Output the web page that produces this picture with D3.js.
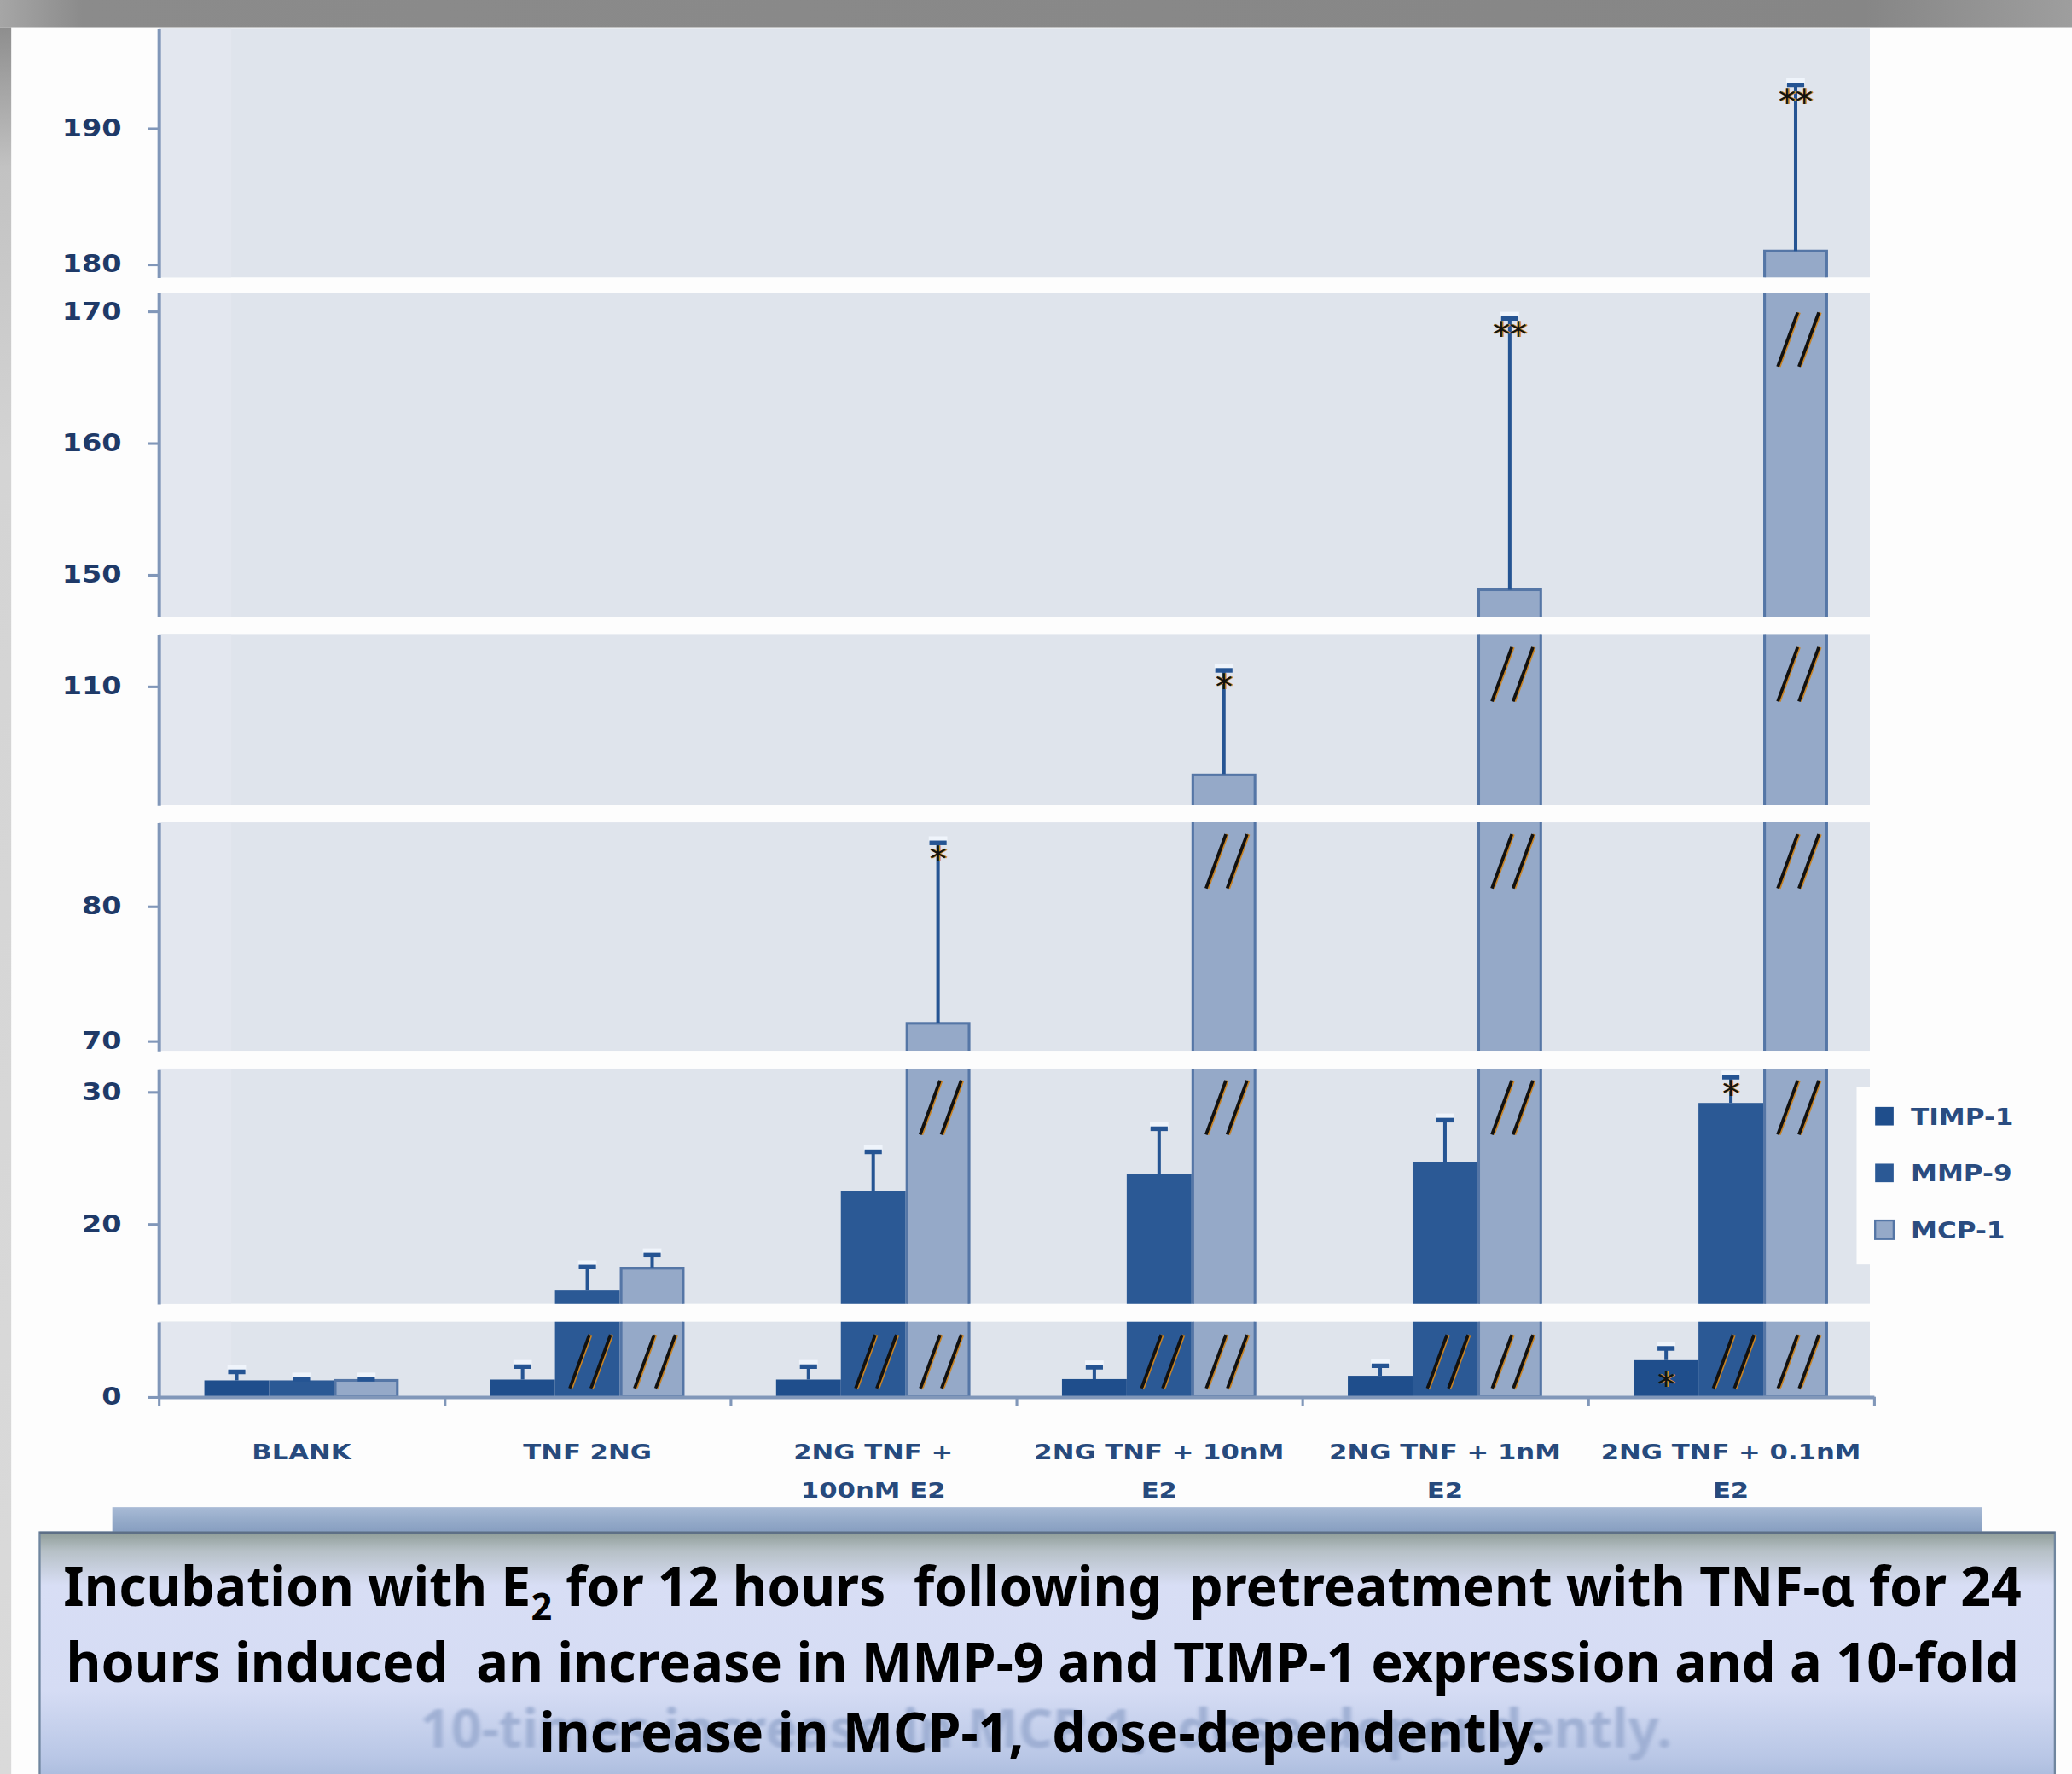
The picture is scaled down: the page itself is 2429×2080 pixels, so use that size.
<!DOCTYPE html>
<html><head><meta charset="utf-8">
<script src="https://cdn.jsdelivr.net/npm/d3@7"></script>
<style>html,body{margin:0;padding:0;background:#fff;overflow:hidden}</style>
</head><body>
<svg id="chart"></svg>
<script>
// ---------------- DATA ----------------
const categories = ["BLANK","TNF 2NG","2NG TNF + 100nM E2","2NG TNF + 10nM E2","2NG TNF + 1nM E2","2NG TNF + 0.1nM E2"];
const categoryLabelLines = [["BLANK"],["TNF 2NG"],["2NG TNF +","100nM E2"],["2NG TNF + 10nM","E2"],["2NG TNF + 1nM","E2"],["2NG TNF + 0.1nM","E2"]];
const seriesNames = ["TIMP-1","MMP-9","MCP-1"];
const timp1    = [1.0, 1.05, 1.05, 1.08, 1.28, 2.23];
const timp1Err = [0.6, 0.87, 0.87, 0.81, 0.69, 0.8];
const mmp9     = [1.0, 14.95, 22.5, 23.8, 24.65, 29.15];
const mmp9Err  = [0.15, 1.9, 3.05, 3.5, 3.3, 2.05];
const mcp1     = [1.0, 16.65, 71.3, 103.3, 148.85, 180.97];
const mcp1Err  = [0.15, 1.1, 13.5, 8.0, 20.7, 12.3];
const yTickValues = [0, 20, 30, 70, 80, 110, 150, 160, 170, 180, 190];
// broken-axis segments (value ranges, bottom segment first)
const segLo = [0, 13.95, 69.26, 101.0, 146.79, 179.03];
const segHi = [4.58, 31.75, 86.23, 113.95, 171.40, 197.33];
const significance = [
  {cat: 2, series: "MCP-1", mark: "*", pos: "top"},
  {cat: 3, series: "MCP-1", mark: "*", pos: "top"},
  {cat: 4, series: "MCP-1", mark: "**", pos: "top"},
  {cat: 5, series: "MCP-1", mark: "**", pos: "top"},
  {cat: 5, series: "MMP-9", mark: "*", pos: "top"},
  {cat: 5, series: "TIMP-1", mark: "*", pos: "inside"}
];
const captionLine1 = [["Incubation with E", false], ["2", true], [" for 12 hours  following  pretreatment with TNF-\u03b1 for 24", false]];
const captionLine2 = "hours induced  an increase in MMP-9 and TIMP-1 expression and a 10-fold";
const captionLine3 = "increase in MCP-1,  dose-dependently.";
const captionGhost = "10-times increase in MCP-1,  dose-dependently.";

// ---------------- LAYOUT / STYLE ----------------
const W = 1568, H = 1343;
const segBottom = [1057.4, 987, 795.5, 609.5, 467, 210];
const segTop    = [1000.6, 809, 622.5, 480, 221.6, 21.5];
const slashOffset = [10, 9, 9, 10, 15, 10];
const plotLeft = 120, plotRight = 1418, panelRight = 1415;
const colors = {"TIMP-1": "#1f4e8c", "MMP-9": "#2b5995", "MCP-1": "#95a9c8"};
const seriesVals = {"TIMP-1": timp1, "MMP-9": mmp9, "MCP-1": mcp1};
const seriesErrs = {"TIMP-1": timp1Err, "MMP-9": mmp9Err, "MCP-1": mcp1Err};
const navy = "#1f3a68";
const chartFont = "'DejaVu Sans', Verdana, sans-serif";

const svg = d3.select("#chart")
  .attr("width", 2429).attr("height", 2080)
  .attr("viewBox", `0 0 ${W} ${H}`)
  .attr("preserveAspectRatio", "none");
const defs = svg.append("defs");

function grad(id, vertical, stops) {
  const g = defs.append("linearGradient").attr("id", id)
    .attr("x1", 0).attr("y1", 0).attr("x2", vertical ? 0 : 1).attr("y2", vertical ? 1 : 0);
  stops.forEach(([o, c]) => g.append("stop").attr("offset", o).attr("stop-color", c));
}
grad("topbar", false, [[0, "#a6a6a6"], [0.04, "#8b8b8b"], [0.9, "#868686"], [1, "#9e9e9e"]]);
grad("leftstrip", true, [[0, "#8e8e8e"], [0.08, "#c2c2c2"], [0.25, "#d4d4d4"], [1, "#dadada"]]);
grad("bluebar", true, [[0, "#a9bbd6"], [0.5, "#93a9c8"], [1, "#8299bd"]]);
grad("capgrad", true, [[0, "#8e9c97"], [0.07, "#b6c0c6"], [0.2, "#d8def5"], [0.6, "#d5dcf4"], [0.85, "#b9c7e6"], [1, "#9fb2d6"]]);
defs.append("filter").attr("id", "soft").append("feGaussianBlur").attr("stdDeviation", 1.2);

// background
svg.append("rect").attr("width", W).attr("height", H).attr("fill", "#fdfdfd");
svg.append("rect").attr("x", 0).attr("y", 0).attr("width", W).attr("height", 21).attr("fill", "url(#topbar)");
svg.append("rect").attr("x", 0).attr("y", 21).attr("width", 8.5).attr("height", H - 21).attr("fill", "url(#leftstrip)");

// scales
const x0 = d3.scaleBand().domain(categories).range([plotLeft, plotRight]).paddingInner(0).paddingOuter(0);
const x1 = d3.scaleBand().domain(seriesNames).range([0, x0.bandwidth()]).paddingInner(0).paddingOuter(0.707);
const segments = segLo.map((lo, i) => ({
  i, lo, hi: segHi[i], top: segTop[i], bottom: segBottom[i],
  y: d3.scaleLinear().domain([lo, segHi[i]]).range([segBottom[i], segTop[i]])
}));

const rows = [];
categories.forEach((c, ci) => seriesNames.forEach(s => rows.push({
  c, ci, s, v: seriesVals[s][ci], e: seriesErrs[s][ci]
})));

// panels
segments.forEach(seg => {
  defs.append("clipPath").attr("id", "clip" + seg.i).append("rect")
    .attr("x", 0).attr("y", seg.top).attr("width", W).attr("height", seg.bottom - seg.top + (seg.lo === 0 ? 2 : 0));
  svg.append("rect").attr("x", plotLeft).attr("y", seg.top)
    .attr("width", panelRight - plotLeft).attr("height", seg.bottom - seg.top)
    .attr("fill", "#dfe4ec");
  svg.append("rect").attr("x", plotLeft).attr("y", seg.top)
    .attr("width", 55).attr("height", seg.bottom - seg.top)
    .attr("fill", "#e3e7ef");
});

// bars, error bars, slashes
segments.forEach(seg => {
  const g = svg.append("g").attr("clip-path", `url(#clip${seg.i})`);
  const bottomY = seg.lo === 0 ? seg.y(0) : seg.bottom + 6;
  const vis = rows.filter(r => seg.lo === 0 || r.v > seg.lo);
  g.selectAll("rect.bar").data(vis).join("rect").attr("class", "bar")
    .attr("x", r => x0(r.c) + x1(r.s) + (r.s === "MCP-1" ? 1 : 0))
    .attr("width", r => x1.bandwidth() - (r.s === "MCP-1" ? 2 : 0))
    .attr("y", r => Math.max(seg.y(r.v), seg.top - 10))
    .attr("height", r => bottomY - Math.max(seg.y(r.v), seg.top - 10))
    .attr("fill", r => colors[r.s])
    .attr("stroke", r => r.s === "MCP-1" ? "#5576a6" : "none")
    .attr("stroke-width", 2);

  // error bars
  const ev = rows.filter(r => r.v + r.e > seg.lo && r.v < seg.hi);
  ev.forEach(r => {
    const cx = x0(r.c) + x1(r.s) + x1.bandwidth() / 2;
    const yb = seg.y(r.v), yt = seg.y(r.v + r.e);
    g.append("line").attr("x1", cx).attr("x2", cx).attr("y1", yb).attr("y2", yt)
      .attr("stroke", "#255493").attr("stroke-width", 2.6);
    g.append("line").attr("x1", cx - 7).attr("x2", cx + 7).attr("y1", yt - 2).attr("y2", yt - 2)
      .attr("stroke", "#f4f8ff").attr("stroke-width", 4).attr("opacity", 0.8);
    g.append("line").attr("x1", cx - 6.5).attr("x2", cx + 6.5).attr("y1", yt + 1).attr("y2", yt + 1)
      .attr("stroke", "#255493").attr("stroke-width", 3.5);
  });

  // break marks "//"
  if (seg.i < segments.length - 1) {
    rows.filter(r => r.v > seg.hi).forEach(r => {
      const cx = x0(r.c) + x1(r.s) + x1.bandwidth() / 2 + 2;
      const yT = seg.top + slashOffset[seg.i], yB = yT + 41;
      [-8, 8].forEach(dx => {
        svg.append("line").attr("x1", cx + dx + 7.5 + 1.2).attr("y1", yT).attr("x2", cx + dx - 7.5 + 1.2).attr("y2", yB)
          .attr("stroke", "#c98424").attr("stroke-width", 2.2);
        svg.append("line").attr("x1", cx + dx + 7.5).attr("y1", yT).attr("x2", cx + dx - 7.5).attr("y2", yB)
          .attr("stroke", "#111").attr("stroke-width", 2.4);
      });
    });
  }
});

// y axes (one per segment)
segments.forEach(seg => {
  const ticks = yTickValues.filter(t => t >= seg.lo && t <= seg.hi);
  const ax = svg.append("g").attr("transform", `translate(${plotLeft},0)`)
    .call(d3.axisLeft(seg.y).tickValues(ticks).tickSize(8).tickSizeOuter(0).tickPadding(20).tickFormat(d3.format("d")));
  ax.select(".domain").attr("stroke", "#8197b9").attr("stroke-width", 2.6);
  ax.selectAll(".tick line").attr("stroke", "#8197b9").attr("stroke-width", 2);
  ax.selectAll(".tick text")
    .attr("font-family", chartFont).attr("font-weight", "bold").attr("font-size", 18)
    .attr("fill", navy)
    .attr("transform", "translate(-28,0) scale(1.2,1) translate(28,0)");
});

// x axis (category boundaries)
const xb = d3.scaleLinear().domain([0, categories.length]).range([plotLeft, plotRight]);
const xax = svg.append("g").attr("transform", `translate(0,${segBottom[0]})`)
  .call(d3.axisBottom(xb).tickValues(d3.range(categories.length + 1)).tickSize(7).tickSizeOuter(0).tickFormat(""));
xax.select(".domain").attr("stroke", "#8197b9").attr("stroke-width", 2.6);
xax.selectAll(".tick line").attr("stroke", "#8197b9").attr("stroke-width", 2);

// category labels
categories.forEach((c, i) => {
  const cx = x0(c) + x0.bandwidth() / 2;
  categoryLabelLines[i].forEach((ln, k) => {
    svg.append("text").attr("x", cx).attr("y", 1105 + k * 29)
      .attr("text-anchor", "middle")
      .attr("font-family", chartFont).attr("font-weight", "bold").attr("font-size", 16)
      .attr("fill", "#274a7d")
      .attr("transform", `translate(${cx},0) scale(1.24,1) translate(${-cx},0)`)
      .text(ln);
  });
});

// significance marks
significance.forEach(m => {
  const ci = m.cat, v = seriesVals[m.series][ci], e = seriesErrs[m.series][ci];
  const cx = x0(categories[ci]) + x1(m.series) + x1.bandwidth() / 2;
  const seg = segments.find(s => (m.pos === "top" ? v + e : v) <= s.hi && (m.pos === "top" ? v + e : v) >= s.lo);
  const yRef = seg.y(m.pos === "top" ? v + e : v);
  const by = m.pos === "top" ? yRef + 23 : yRef + 28;
  [["#d38a26", 1.2], ["#111", 0]].forEach(([col, dx]) => {
    svg.append("text").attr("x", cx + dx).attr("y", by).attr("text-anchor", "middle")
      .attr("font-family", chartFont).attr("font-size", 26).attr("fill", col).text(m.mark);
  });
});

// legend
svg.append("rect").attr("x", 1405).attr("y", 823).attr("width", 136).attr("height", 134).attr("fill", "#fdfdfd");
seriesNames.forEach((s, i) => {
  const cy = 845 + i * 43;
  svg.append("rect").attr("x", 1419).attr("y", cy - 7).attr("width", 14).attr("height", 14)
    .attr("fill", colors[s]).attr("stroke", s === "MCP-1" ? "#5576a6" : "none").attr("stroke-width", 1.5);
  svg.append("text").attr("x", 1446).attr("y", cy + 6.5)
    .attr("font-family", chartFont).attr("font-weight", "bold").attr("font-size", 17)
    .attr("fill", "#2a4c80")
    .attr("transform", `translate(1446,0) scale(1.18,1) translate(-1446,0)`)
    .text(s);
});

// caption area
svg.append("rect").attr("x", 85).attr("y", 1141).attr("width", 1415).attr("height", 22).attr("fill", "url(#bluebar)");
svg.append("rect").attr("x", 30).attr("y", 1160).attr("width", 1525).attr("height", 200)
  .attr("fill", "url(#capgrad)").attr("stroke", "#70869f").attr("stroke-width", 1.5);
svg.append("line").attr("x1", 30).attr("x2", 1555).attr("y1", 1160.5).attr("y2", 1160.5)
  .attr("stroke", "#5d6f86").attr("stroke-width", 2);

const capFont = "'Liberation Sans Narrow', 'Noto Sans', 'Open Sans', sans-serif";
function fit(sel, xa, xb2) {
  const w = sel.node().getComputedTextLength();
  const s = (xb2 - xa) / w;
  sel.attr("transform", `translate(${xa},0) scale(${s},1) translate(${-xa},0)`);
}
// ghost line
const gh = svg.append("text").attr("x", 318).attr("y", 1323)
  .attr("font-family", capFont).attr("font-weight", "bold").attr("font-size", 40)
  .attr("fill", "#9cadd2").attr("opacity", 0.9).attr("filter", "url(#soft)")
  .style("white-space", "pre").text(captionGhost);
fit(gh, 318, 1265);

const t1 = svg.append("text").attr("x", 48).attr("y", 1216)
  .attr("font-family", capFont).attr("font-weight", "bold").attr("font-size", 42)
  .attr("fill", "#000").style("white-space", "pre");
captionLine1.forEach(([txt, sub]) => {
  const ts = t1.append("tspan").text(txt);
  if (sub) ts.attr("font-size", 29).attr("dy", 11);
  else if (txt !== captionLine1[0][0]) ts.attr("dy", -11);
});
fit(t1, 48, 1530);
const t2 = svg.append("text").attr("x", 50).attr("y", 1273)
  .attr("font-family", capFont).attr("font-weight", "bold").attr("font-size", 42)
  .attr("fill", "#000").style("white-space", "pre").text(captionLine2);
fit(t2, 50, 1528);
const t3 = svg.append("text").attr("x", 408).attr("y", 1326)
  .attr("font-family", capFont).attr("font-weight", "bold").attr("font-size", 42)
  .attr("fill", "#000").style("white-space", "pre").text(captionLine3);
fit(t3, 408, 1170);
</script>
</body></html>
